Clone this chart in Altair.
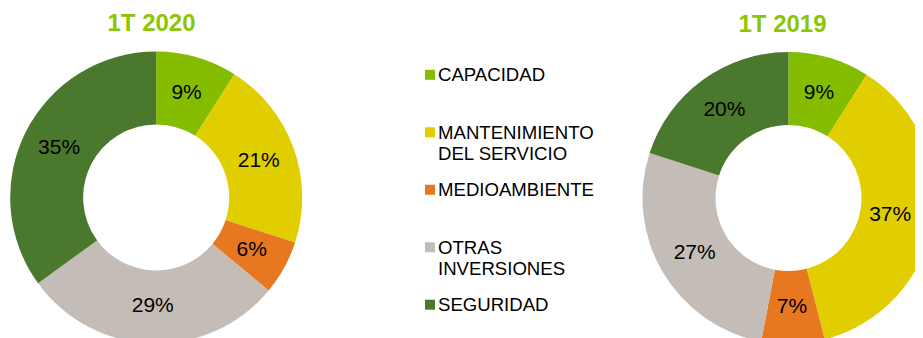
import altair as alt
import pandas as pd

# ---- data ----
categorias = ["CAPACIDAD", "MANTENIMIENTO DEL SERVICIO", "MEDIOAMBIENTE",
              "OTRAS INVERSIONES", "SEGURIDAD"]
etiquetas_leyenda = ["CAPACIDAD", "MANTENIMIENTO\nDEL SERVICIO", "MEDIOAMBIENTE",
                     "OTRAS\nINVERSIONES", "SEGURIDAD"]
valores_2020 = [9, 21, 6, 29, 35]
valores_2019 = [9, 37, 7, 27, 20]
colores = ["#84bd00", "#e1ce00", "#e87722", "#c4bdb7", "#4a782d"]
titulos = ["1T 2020", "1T 2019"]

FONT = "Liberation Sans"
TITLE_COLOR = "#8cc600"

rows = []
for periodo, vals in zip(titulos, [valores_2020, valores_2019]):
    for i, (c, v) in enumerate(zip(categorias, vals)):
        rows.append({"periodo": periodo, "categoria": c, "orden": i,
                     "valor": v, "label": f"{v}%"})
df = pd.DataFrame(rows)

df_leg = pd.DataFrame({"idx": list(range(len(categorias))),
                       "categoria": categorias,
                       "etiqueta": etiquetas_leyenda})

color_scale = alt.Scale(domain=categorias, range=colores)
theta_scale = alt.Scale(domain=[0, 100])


def donut(periodo, cx, cy, tx, ty, edge_orden=None, edge_dx=0):
    base = alt.Chart(df).transform_filter(alt.datum.periodo == periodo)
    arc = base.mark_arc(innerRadius=73, outerRadius=146).encode(
        theta=alt.Theta("valor:Q", stack=True, scale=theta_scale),
        order=alt.Order("orden:Q"),
        color=alt.Color("categoria:N", scale=color_scale, legend=None),
        x=alt.value(cx), y=alt.value(cy),
    )
    lab = base.transform_window(
        fin="sum(valor)", sort=[alt.SortField("orden")], frame=[None, 0]
    ).transform_calculate(mid="datum.fin - datum.valor / 2")
    enc = dict(theta=alt.Theta("mid:Q", stack=None, scale=theta_scale),
               text="label:N", x=alt.value(cx), y=alt.value(cy))
    props = dict(radius=109, fontSize=21, font=FONT, color="#000000",
                 align="center", baseline="middle")
    if edge_orden is None:
        txts = [lab.mark_text(**props).encode(**enc)]
    else:
        txts = [
            lab.transform_filter(alt.datum.orden != edge_orden).mark_text(**props).encode(**enc),
            lab.transform_filter(alt.datum.orden == edge_orden).mark_text(dx=edge_dx, **props).encode(**enc),
        ]
    title = alt.Chart(pd.DataFrame({"t": [periodo]})).mark_text(
        fontSize=24, fontWeight="bold", font=FONT, color=TITLE_COLOR,
        align="center", baseline="middle").encode(
        text="t:N", x=alt.value(tx), y=alt.value(ty))
    return [arc] + txts + [title]


ly = alt.Y("idx:Q", scale=alt.Scale(domain=[0, 4], range=[66.8, 296.7]), axis=None)
leg_sq = alt.Chart(df_leg).mark_square(size=100, opacity=1).encode(
    x=alt.value(422), y=ly,
    color=alt.Color("categoria:N", scale=color_scale, legend=None),
)
leg_txt = alt.Chart(df_leg).mark_text(
    fontSize=18.6, font=FONT, color="#000000", align="left",
    baseline="alphabetic", lineBreak="\n", lineHeight=21, dy=6.5).encode(
    x=alt.value(430), y=ly, text="etiqueta:N")

layers = donut("1T 2020", 148.2, 189.5, 143.5, 16) + \
    donut("1T 2019", 780.5, 190, 774.5, 17, edge_orden=1, edge_dx=-6) + \
    [leg_sq, leg_txt]

chart = alt.layer(*layers).properties(
    width=907, height=330, padding=0,
    autosize=alt.AutoSizeParams(type="none"),
).configure_view(stroke=None)

chart.save("out.html", embed_options={"renderer": "svg", "actions": False})
